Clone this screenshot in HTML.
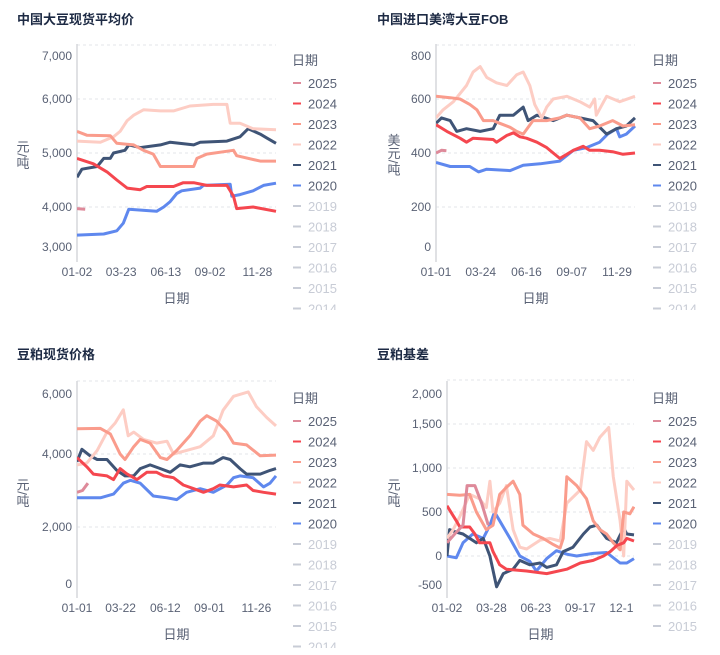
<!DOCTYPE html>
<html><head><meta charset="utf-8">
<style>
html,body{margin:0;padding:0;background:#fff;}
svg{display:block;font-family:"Liberation Sans","Noto Sans CJK SC",sans-serif;}
.ttl{font-size:13px;font-weight:bold;fill:#1d2a44;}
.tk{font-size:12px;fill:#5a6275;}
.lg{font-size:12px;fill:#5a6275;}
.lgo{font-size:12px;fill:#c8ccd6;}
</style></head>
<body>
<svg id="chart" width="720" height="655" viewBox="0 0 720 655"></svg>
<script>
// ===== Data =====
const years = ["2025","2024","2023","2022","2021","2020"];
const oldYears = ["2019","2018","2017","2016","2015","2014"];

// Panel 1: 中国大豆现货平均价 (day-of-year, 元/吨)
const p1Ticks = [3000,4000,5000,6000,7000];
const p1XLabels = ["01-02","03-23","06-13","09-02","11-28"];
const p1XDays = [0,81,163,244,331];
const p1_2025 = [[0,3970],[15,3960]];
const p1_2024 = [[0,4900],[30,4800],[55,4650],[73,4500],[92,4350],[116,4320],[128,4380],[177,4380],[195,4450],[214,4450],[238,4400],[275,4400],[287,4200],[293,3970],[323,4000],[365,3920]];
const p1_2023 = [[0,5400],[18,5330],[61,5320],[73,5180],[104,5150],[122,5050],[140,4980],[153,4750],[214,4750],[220,4900],[238,4980],[287,5050],[293,4950],[336,4850],[365,4850]];
const p1_2022 = [[0,5220],[43,5200],[67,5300],[79,5400],[92,5600],[104,5700],[122,5800],[153,5780],[177,5780],[207,5870],[250,5900],[275,5900],[281,5550],[299,5550],[323,5450],[365,5430]];
const p1_2021 = [[0,4550],[9,4700],[37,4750],[49,4900],[61,4900],[67,5000],[88,5050],[95,5150],[116,5100],[153,5150],[171,5200],[214,5150],[226,5200],[275,5220],[299,5300],[314,5450],[336,5350],[348,5280],[365,5180]];
const p1_2020 = [[0,3480],[49,3500],[73,3560],[85,3700],[95,3960],[146,3920],[159,4000],[171,4100],[183,4250],[192,4300],[226,4350],[232,4400],[281,4420],[284,4200],[299,4230],[323,4300],[342,4400],[365,4440]];

// Panel 2: 中国进口美湾大豆FOB (美元/吨)
const p2Ticks = [0,200,400,600,800];
const p2XLabels = ["01-01","03-24","06-16","09-07","11-29"];
const p2XDays = [0,82,166,249,332];
const p2_2025 = [[0,400],[10,410],[19,408]];
const p2_2024 = [[0,505],[20,480],[44,455],[56,440],[68,455],[105,450],[111,440],[130,465],[142,475],[154,460],[166,455],[185,440],[203,420],[215,400],[227,380],[240,395],[252,410],[270,425],[282,410],[300,410],[324,405],[343,395],[365,400]];
const p2_2023 = [[0,610],[26,605],[44,600],[62,580],[75,560],[87,520],[105,520],[117,510],[136,495],[148,480],[160,470],[178,520],[203,520],[227,530],[240,540],[264,530],[282,490],[300,500],[324,520],[343,500],[365,505]];
const p2_2022 = [[0,530],[13,560],[32,590],[44,620],[56,650],[68,700],[81,720],[93,680],[111,660],[130,650],[148,690],[160,700],[172,650],[181,580],[194,530],[203,570],[215,600],[240,610],[264,590],[282,570],[291,600],[294,540],[313,610],[337,590],[365,610]];
const p2_2021 = [[0,510],[10,530],[26,520],[38,480],[56,490],[81,480],[105,490],[117,540],[142,540],[160,570],[169,520],[185,540],[215,520],[240,540],[264,530],[288,520],[313,470],[331,490],[349,500],[365,530]];
const p2_2020 = [[0,365],[26,350],[62,350],[78,330],[93,340],[136,335],[160,355],[191,360],[227,370],[252,410],[276,420],[300,440],[315,470],[331,490],[337,460],[349,470],[365,500]];

// Panel 3: 豆粕现货价格 (元/吨)
const p3Ticks = [0,2000,4000,6000];
const p3XLabels = ["01-01","03-22","06-12","09-01","11-26"];
const p3XDays = [0,80,162,243,329];
const p3_2025 = [[0,2950],[10,3000],[20,3200]];
const p3_2024 = [[0,3900],[18,3650],[30,3450],[55,3400],[67,3300],[79,3600],[92,3450],[110,3300],[128,3500],[146,3500],[159,3400],[177,3350],[195,3150],[214,3050],[232,2950],[250,3050],[262,3150],[287,3100],[311,3150],[323,3000],[342,2950],[365,2900]];
const p3_2023 = [[0,4690],[43,4700],[61,4550],[79,4000],[88,3850],[104,4200],[116,4400],[134,4300],[153,3900],[165,3850],[183,4100],[207,4500],[226,4900],[238,5050],[256,4900],[275,4600],[287,4300],[311,4250],[336,3950],[365,3970]];
const p3_2022 = [[0,3700],[18,3750],[37,4100],[55,4600],[70,4850],[85,5210],[94,4500],[104,4600],[122,4400],[146,4300],[165,4350],[177,4000],[201,4100],[226,4200],[250,4500],[268,5200],[287,5580],[314,5700],[329,5300],[348,5000],[365,4770]];
const p3_2021 = [[0,3790],[9,4130],[24,3950],[37,3850],[55,3850],[73,3550],[88,3400],[104,3400],[116,3600],[134,3700],[153,3600],[171,3500],[189,3700],[207,3650],[232,3750],[250,3750],[268,3900],[281,3850],[299,3600],[311,3450],[336,3450],[354,3550],[365,3600]];
const p3_2020 = [[0,2800],[43,2800],[67,2900],[85,3200],[98,3280],[116,3200],[140,2850],[165,2800],[183,2750],[201,2950],[226,3050],[250,2950],[275,3150],[287,3350],[299,3400],[323,3350],[342,3100],[354,3200],[365,3400]];

// Panel 4: 豆粕基差 (元/吨)
const p4Ticks = [-500,0,500,1000,1500,2000];
const p4XLabels = ["01-02","03-28","06-23","09-17","12-12"];
const p4XDays = [0,86,172,258,344];
const p4_2025 = [[0,150],[15,250],[31,350],[39,800],[54,800],[67,600],[80,350]];
const p4_2024 = [[0,570],[18,400],[25,330],[44,330],[54,250],[63,150],[83,150],[89,50],[102,-100],[115,-150],[154,-170],[193,-200],[232,-150],[258,-80],[283,-50],[303,0],[316,50],[329,120],[342,150],[348,200],[362,170]];
const p4_2023 = [[0,700],[25,690],[44,700],[57,500],[76,300],[89,350],[102,700],[115,780],[128,850],[141,700],[147,350],[167,250],[186,200],[206,130],[219,90],[225,200],[232,900],[251,800],[270,650],[283,400],[296,300],[309,250],[322,150],[335,70],[342,500],[354,480],[362,560]];
const p4_2022 = [[0,200],[12,300],[25,450],[44,700],[63,650],[76,550],[83,850],[89,500],[102,600],[115,800],[128,300],[141,100],[154,80],[180,180],[199,200],[219,170],[232,600],[258,750],[270,1300],[283,1200],[296,1350],[313,1460],[322,900],[335,400],[342,0],[348,850],[362,750]];
const p4_2021 = [[0,0],[5,300],[18,270],[31,250],[44,200],[57,150],[70,200],[83,0],[96,-350],[109,-200],[128,-150],[141,-50],[160,-100],[180,-80],[193,-130],[212,-100],[225,50],[244,100],[264,250],[277,330],[290,350],[309,200],[328,150],[342,320],[348,250],[362,240]];
const p4_2020 = [[0,0],[18,-20],[31,150],[50,250],[70,200],[83,350],[92,500],[102,400],[122,200],[141,0],[160,-60],[173,-170],[193,-30],[212,60],[232,20],[251,0],[283,30],[309,40],[335,-80],[348,-80],[362,-30]];

// ===== Rendering =====
const colors = {"2025":"#de8a9a","2024":"#f5474f","2023":"#fa9c8c","2022":"#fdcdc4","2021":"#3f5476","2020":"#5f88ee"};
const NS = "http://www.w3.org/2000/svg";
const svg = document.getElementById("chart");
function mk(tag, attrs, parent){
  const e = document.createElementNS(NS, tag);
  for (const k in attrs) e.setAttribute(k, attrs[k]);
  (parent||svg).appendChild(e);
  return e;
}

const panels = [
  {id:"soy-spot",title:"中国大豆现货平均价",ox:0,oy:0,left:77,right:276,top:44,bottom:262,dmax:365,
   ya:[4000,207],yb:[5000,153],lblMin:56,lblMax:247,ticks:p1Ticks,xl:p1XLabels,xd:p1XDays,
   unit:"元/吨",unitY:155,unitX:22,series:[p1_2025,p1_2024,p1_2023,p1_2022,p1_2021,p1_2020],lgY:60,lgClip:310},
  {id:"soy-fob",title:"中国进口美湾大豆FOB",ox:360,oy:0,left:436,right:635,top:44,bottom:262,dmax:365,
   ya:[400,153],yb:[600,99],lblMin:56,lblMax:247,ticks:p2Ticks,xl:p2XLabels,xd:p2XDays,
   unit:"美元/吨",unitY:155,unitX:393,series:[p2_2025,p2_2024,p2_2023,p2_2022,p2_2021,p2_2020],lgY:60,lgClip:310},
  {id:"meal-spot",title:"豆粕现货价格",ox:0,oy:335,left:77,right:276,top:381,bottom:598,dmax:365,
   ya:[4000,454],yb:[2000,527],lblMin:394,lblMax:584,ticks:p3Ticks,xl:p3XLabels,xd:p3XDays,
   unit:"元/吨",unitY:493,unitX:22,series:[p3_2025,p3_2024,p3_2023,p3_2022,p3_2021,p3_2020],lgY:398,lgClip:648},
  {id:"meal-basis",title:"豆粕基差",ox:360,oy:335,left:447,right:634,top:381,bottom:598,dmax:362,
   ya:[0,556],yb:[1000,468],lblMin:394,lblMax:585,ticks:p4Ticks,xl:p4XLabels,xd:p4XDays,
   unit:"元/吨",unitY:493,unitX:393,series:[p4_2025,p4_2024,p4_2023,p4_2022,p4_2021,p4_2020],lgY:398,lgClip:636}
];

panels.forEach((p, pi) => {
  const g = mk("g", {});
  
  
  const ys = v => p.ya[1] + (v - p.ya[0]) * (p.yb[1] - p.ya[1]) / (p.yb[0] - p.ya[0]);
  const xs = d => p.left + d / p.dmax * (p.right - p.left);

  const t = mk("text", {x:p.ox+17, y:p.oy+24, class:"ttl"}, g);
  t.textContent = p.title;
  
  

  p.ticks.forEach(v => {
    const y = ys(v);
    if (y >= p.top - 1 && y <= p.bottom + 1 && Math.abs(y - p.bottom) > 3) {
      const gl = mk("line", {x1:p.left, x2:p.right, y1:y, y2:y, stroke:"#e3e5ea", "stroke-dasharray":"3,3", "stroke-width":1}, g);
      
      
    }
    const ly = Math.min(p.lblMax, Math.max(p.lblMin, y));
    const tl = mk("text", {x:p.left-5, y:ly+4, class:"tk", "text-anchor":"end"}, g);
    tl.textContent = v.toLocaleString("en-US");
    
    
  });

  const ax = mk("line", {x1:p.left, x2:p.left, y1:p.top, y2:p.bottom, stroke:"#d5d7dc", "stroke-width":1.5}, g);
  
  

  const ut = mk("text", {x:p.unitX, y:p.unitY, class:"tk", "text-anchor":"middle", style:"writing-mode:vertical-rl;font-size:13px"}, g);
  ut.textContent = p.unit;
  
  

  const cp = mk("clipPath", {id:"clip"+pi}, g);
  mk("rect", {x:p.ox, y:p.top-5, width:p.right - p.ox, height:p.bottom - p.top + 50}, cp);
  const cpl = mk("clipPath", {id:"clipP"+pi}, g);
  mk("rect", {x:p.left, y:p.top-5, width:p.right - p.left + 1, height:p.bottom - p.top + 10}, cpl);

  p.xl.forEach((lab, i) => {
    const xl = mk("text", {x:xs(p.xd[i]), y:p.bottom+14, class:"tk", "text-anchor":"middle", "clip-path":"url(#clip"+pi+")"}, g);
    xl.textContent = lab;
    
    
  });
  const xt = mk("text", {x:(p.left+p.right)/2, y:p.bottom+41, class:"tk", "text-anchor":"middle", style:"font-size:13px"}, g);
  xt.textContent = "日期";
  
  

  const order = [5,4,3,2,1,0];
  order.forEach(si => {
    const data = p.series[si];
    const d = data.map((pt, k) => (k ? "L" : "M") + xs(pt[0]).toFixed(1) + "," + ys(pt[1]).toFixed(1)).join(" ");
    const path = mk("path", {d:d, fill:"none", stroke:colors[years[si]], "stroke-width":3, "stroke-linejoin":"round", "clip-path":"url(#clipP"+pi+")"}, g);
    
    
  });

  const lgc = mk("clipPath", {id:"clipL"+pi}, g);
  mk("rect", {x:p.ox+280, y:p.lgY-15, width:80, height:p.lgClip - p.lgY + 15}, lgc);
  const lg = mk("g", {"clip-path":"url(#clipL"+pi+")"}, g);
  
  
  const lt = mk("text", {x:p.ox+292, y:p.lgY+5, class:"lg", style:"font-size:13px"}, lg);
  lt.textContent = "日期";
  
  
  years.concat(oldYears).forEach((yr, i) => {
    const y = p.lgY + 23 + i * 20.5;
    const on = i < years.length;
    const e = mk("g", {}, lg);
    
    
    mk("line", {x1:p.ox+293, x2:p.ox+301, y1:y, y2:y, stroke:on ? colors[yr] : "#c8ccd6", "stroke-width":2}, e);
    const tx = mk("text", {x:p.ox+308, y:y+5, class:on ? "lg" : "lgo", style:"font-size:13px"}, e);
    tx.textContent = yr;
  });
});
</script>
</body></html>
